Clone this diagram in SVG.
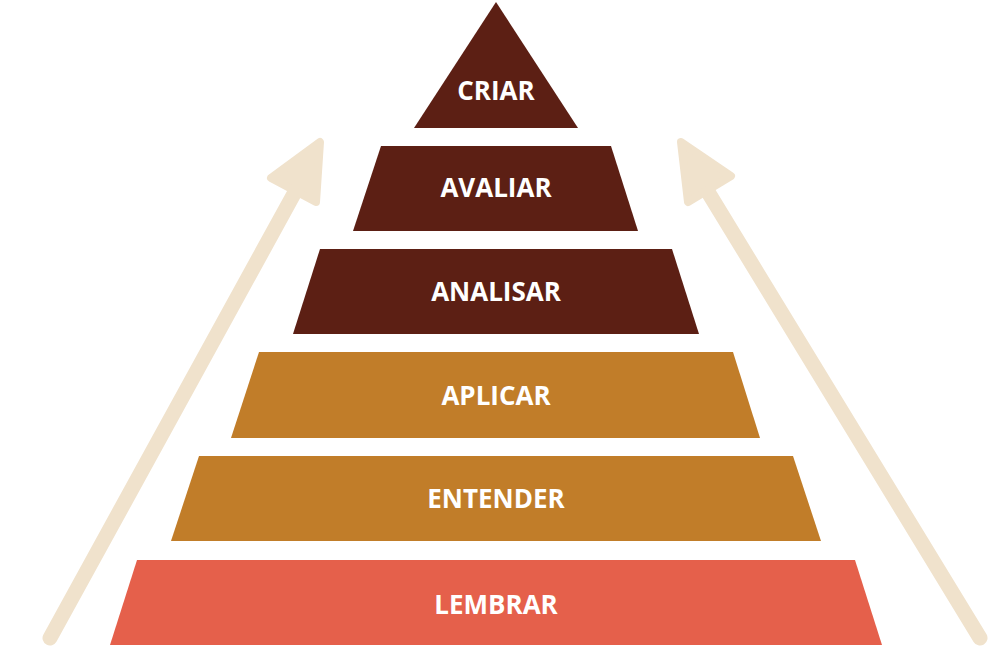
<svg xmlns="http://www.w3.org/2000/svg" width="1000" height="646" viewBox="0 0 1000 646">
<style>
.dark{fill:#5c1f14}.gold{fill:#c17d29}.red{fill:#e5604b}
.lbl{font-family:"Open Sans","DejaVu Sans",sans-serif;font-weight:bold;font-size:26px;fill:#fff;text-anchor:middle}
.shaft{stroke:#f0e2cc;stroke-width:15;stroke-linecap:round;fill:none}
.head{fill:#f0e2cc;stroke:#f0e2cc;stroke-width:8;stroke-linejoin:round}
</style>
<g id="connectors">
<line class="shaft" x1="50" y1="638" x2="295" y2="192"/>
<polygon class="head" points="320,142 316,202 271,178"/>
<line class="shaft" x1="980" y1="638" x2="708" y2="192"/>
<polygon class="head" points="681,142 731,176 688,202"/>
</g>
<g id="criar"><polygon class="dark" points="496,2 578,128 414,128"/><text class="lbl" x="496" y="100">CRIAR</text></g>
<g id="avaliar"><polygon class="dark" points="381,146 611,146 638,231 353,231"/><text class="lbl" x="496" y="197">AVALIAR</text></g>
<g id="analisar"><polygon class="dark" points="320,249 672,249 699,334 293,334"/><text class="lbl" x="496" y="301">ANALISAR</text></g>
<g id="aplicar"><polygon class="gold" points="259,352 733,352 760,438 231,438"/><text class="lbl" x="496" y="405">APLICAR</text></g>
<g id="entender"><polygon class="gold" points="199,456 793,456 821,541 171,541"/><text class="lbl" x="496" y="508">ENTENDER</text></g>
<g id="lembrar"><polygon class="red" points="137,560 855,560 882,645 110,645"/><text class="lbl" x="496" y="614">LEMBRAR</text></g>
</svg>
